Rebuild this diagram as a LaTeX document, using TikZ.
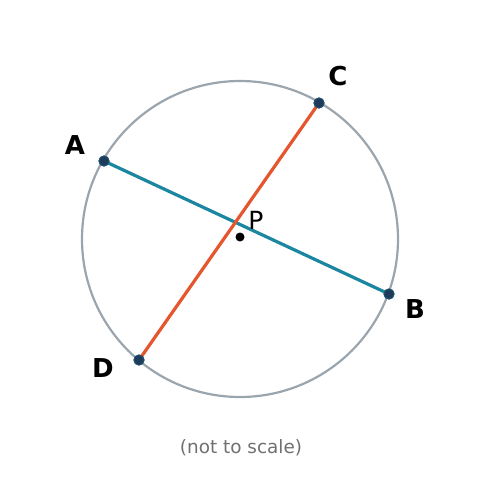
\documentclass[tikz,border=0pt]{standalone}
\usepackage{fontspec}
\setmainfont{DejaVu Sans}
\definecolor{circgray}{HTML}{9AA5AE}
\definecolor{teal}{HTML}{1A86A0}
\definecolor{orng}{HTML}{E5552E}
\definecolor{navy}{HTML}{1F3B5A}
\definecolor{notegray}{HTML}{707070}
\begin{document}
\begin{tikzpicture}[x=1pt,y=-1pt,
  ptmark/.style={circle,fill=navy,draw=navy!75!teal,line width=1pt,inner sep=0pt,minimum size=10pt},
  ptlabel/.style={font=\fontsize{26}{30}\selectfont\bfseries,inner sep=0pt},
  chordA/.style={teal,line width=3.2pt},
  chordC/.style={orng,line width=3.2pt}]
\useasboundingbox (0,0) rectangle (481,496);
\node[circle,draw=circgray,line width=2.2pt,minimum size=316pt,inner sep=0pt] (circ) at (240,239) {};
\node[ptmark] (A) at (104,161) {};
\node[ptmark] (B) at (389,294) {};
\node[ptmark] (C) at (319,103) {};
\node[ptmark] (D) at (139,360) {};
\draw[chordA] (A.center) -- (B.center);
\draw[chordC] (C.center) -- (D.center);
\node[ptmark] at (A) {};
\node[ptmark] at (B) {};
\node[ptmark] at (C) {};
\node[ptmark] at (D) {};
\node[circle,fill=black,inner sep=0pt,minimum size=9pt] (P) at (240,237) {};
\node[font=\fontsize{25}{30}\selectfont,inner sep=0pt] (Pl) at (256,220) {P};
\node[ptlabel] (Al) at (75,145) {A};
\node[ptlabel] (Bl) at (415,309) {B};
\node[ptlabel] (Cl) at (338,76) {C};
\node[ptlabel] (Dl) at (103,368) {D};
\node[font=\fontsize{18.4}{22}\selectfont,text=notegray] (note) at (241,448) {(not to scale)};
\end{tikzpicture}
\end{document}
